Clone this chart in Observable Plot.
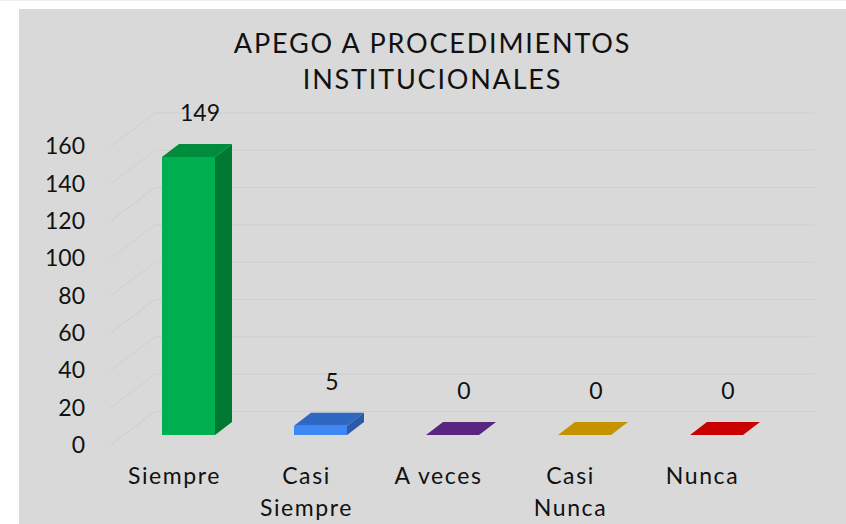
<!DOCTYPE html>
<html><head><meta charset="utf-8">
<script src="https://cdn.jsdelivr.net/npm/d3@7"></script>
<script src="https://cdn.jsdelivr.net/npm/@observablehq/plot@0.6"></script>
<style>
html,body{margin:0;padding:0;background:#fff;}
body{width:846px;height:524px;overflow:hidden;position:relative;border-top:1px solid #ececec;box-sizing:border-box}
#panel{position:absolute;left:19px;top:8px;width:827px;height:516px;background:#d9d9d9;font-family:Lato, sans-serif;}
#title{position:absolute;left:0;top:0;width:100%;text-align:center;font-size:27px;letter-spacing:1.8px;line-height:36px;padding-top:16px;color:#111}
#chart{position:absolute;left:0;top:92px;}
#chart g.catlabels text{letter-spacing:1.6px}
</style></head><body>
<div id="panel"><div id="title">APEGO A PROCEDIMIENTOS<br>INSTITUCIONALES</div><div id="chart"></div></div>
<script>
const categories = ["Siempre", "Casi\nSiempre", "A veces", "Casi\nNunca", "Nunca"];
const values = [149, 5, 0, 0, 0];
const yTicks = [0, 20, 40, 60, 80, 100, 120, 140, 160];

const frontColors = ["#00b050", "#3f87f2", "#5a2580", "#c59300", "#c80000"];
const topColors   = ["#008c3c", "#2f68c2", "#5a2580", "#c59300", "#c80000"];
const sideColors  = ["#007a33", "#2b5aa8", "#4a1f6a", "#a27800", "#a00000"];

// geometry (pixels)
const XS = 132;          // px per category
const K = 1.866;         // px per unit
const HW = 26.5 / XS;    // half bar width in x units
const DX = 17 / XS, DY = 13 / K;  // bar depth
const bars = categories.map((c, i) => ({i, c, v: values[i]}));
const tops = bars.flatMap(d => [
  {i: d.i, y: d.v, x1: d.i - HW, x2: d.i + HW},
  {i: d.i, y: d.v + DY, x1: d.i - HW + DX, x2: d.i + HW + DX}
]);
const sides = bars.flatMap(d => [
  {i: d.i, x: d.i + HW, y1: 0, y2: d.v},
  {i: d.i, x: d.i + HW + DX, y1: DY, y2: d.v + DY}
]);
const grid = "#cfcfcf";

const catLabels = Plot.text(bars, {x: "i", y: 0, text: "c", dx: -14.5, dy: 25, lineAnchor: "top", lineHeight: 1.42, fontSize: 23, fill: "#111"});

const chart = Plot.plot({
  width: 827, height: 432,
  marginTop: 0, marginBottom: 0, marginLeft: 0, marginRight: 0,
  style: {fontFamily: "Lato, sans-serif", fontSize: "23px", background: "transparent", color: "#111", overflow: "visible"},
  x: {domain: [0, 4], range: [169.5, 169.5 + 4 * XS], axis: null},
  y: {domain: [0, 160], range: [334, 334 - 160 * K], axis: null},
  color: {type: "identity"},
  marks: [
    Plot.ruleY(yTicks, {y: d => d, x1: -0.5, x2: 4.5, dx: 32, dy: -24, stroke: grid, strokeWidth: 1}),
    Plot.link(yTicks, {x1: -0.5 - 13 / XS, y1: d => d - 10 / K, x2: -0.5 + 32 / XS, y2: d => d + 24 / K, stroke: grid, strokeWidth: 1}),
    Plot.areaY(sides, {x: "x", y1: "y1", y2: "y2", z: "i", fill: d => sideColors[d.i]}),
    Plot.areaX(tops, {y: "y", x1: "x1", x2: "x2", z: "i", fill: d => topColors[d.i]}),
    Plot.rect(bars, {x1: d => d.i - HW, x2: d => d.i + HW, y1: 0, y2: "v", fill: d => frontColors[d.i]}),
    Plot.text(bars, {x: "i", y: "v", text: d => String(d.v), dx: 11, dy: -44, fontSize: 23, fill: "#111"}),
    catLabels,
    Plot.text(yTicks, {x: -0.5, y: d => d, text: d => String(d), textAnchor: "end", dx: -38, dy: 10, fontSize: 23, fill: "#111"})
  ]
});
// tag the category label group for letter-spacing styling
const groups = chart.querySelectorAll("g[aria-label='text']");
if (groups.length >= 2) groups[1].classList.add("catlabels");
document.getElementById("chart").appendChild(chart);
</script>
</body></html>
